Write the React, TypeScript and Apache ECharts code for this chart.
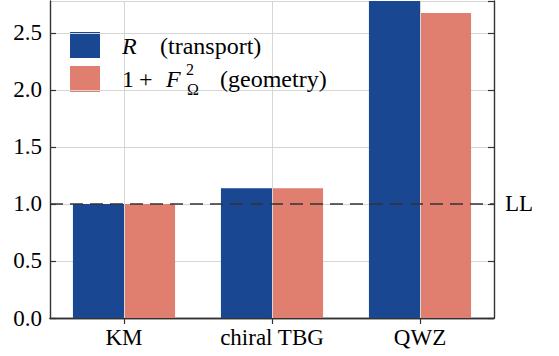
import React, { useEffect, useRef } from "react";
import * as echarts from "echarts";

const categories = ["KM", "chiral TBG", "QWZ"];
const transportValues = [1.0, 1.138, 2.9];
const geometryValues = [1.0, 1.138, 2.675];
const yTicks = [0, 0.5, 1.0, 1.5, 2.0, 2.5];
const llValue = 1.0;

const SERIF = "Liberation Serif";
const BLUE = "#1a4792";
const SALMON = "#e07e70";
const AXIS = "#333333";

const abs = (left: number, top: number, size: number, italic = false): React.CSSProperties => ({
  position: "absolute",
  left,
  top: top - size / 2,
  fontSize: size,
  lineHeight: `${size}px`,
  fontStyle: italic ? "italic" : "normal",
  fontFamily: SERIF,
  color: "#000",
  whiteSpace: "nowrap",
});

export default function App() {
  const ref = useRef<HTMLDivElement>(null);
  useEffect(() => {
    if (!ref.current) return;
    const chart = echarts.init(ref.current, null, { renderer: "svg" });
    const axisLine = { show: true, lineStyle: { color: AXIS, width: 1.4 } };
    const inTick = { show: true, inside: true, length: 6, lineStyle: { color: AXIS, width: 1.2 } };
    chart.setOption({
      animation: false,
      backgroundColor: "#ffffff",
      grid: { left: 50, right: 65, top: 1, bottom: 38, containLabel: false },
      xAxis: [
        {
          type: "category",
          data: categories,
          position: "bottom",
          axisLine,
          axisTick: { ...inTick, alignWithLabel: true },
          axisLabel: { fontFamily: SERIF, fontSize: 23, color: "#000", margin: 8 },
          splitLine: { show: false },
        },
        {
          type: "category",
          data: categories,
          position: "top",
          axisLine,
          axisTick: { ...inTick, alignWithLabel: true },
          axisLabel: { show: false },
          splitLine: { show: false },
        },
      ],
      yAxis: [
        {
          type: "value",
          min: 0,
          max: 2.78,
          interval: 0.5,
          position: "left",
          axisLine,
          axisTick: inTick,
          axisLabel: {
            fontFamily: SERIF,
            fontSize: 23,
            color: "#000",
            margin: 8,
            showMaxLabel: false,
            formatter: (v: number) =>
              yTicks.some((t) => Math.abs(t - v) < 1e-6) ? v.toFixed(1) : "",
          },
          splitLine: { show: true, lineStyle: { color: "#d6d6d6", width: 1 } },
        },
        {
          type: "value",
          min: 0,
          max: 2.78,
          interval: 0.5,
          position: "right",
          axisLine,
          axisTick: inTick,
          axisLabel: { show: false },
          splitLine: { show: false },
        },
      ],
      series: [
        {
          name: "grid",
          type: "line",
          data: categories.map(() => null),
          z: 1,
          silent: true,
          markLine: {
            silent: true,
            symbol: "none",
            label: { show: false },
            lineStyle: { color: "#d6d6d6", width: 1, type: "solid" },
            data: categories.map((c) => ({ xAxis: c })),
          },
        },
        {
          name: "R (transport)",
          type: "bar",
          data: transportValues,
          barGap: "0%",
          barCategoryGap: "31%",
          itemStyle: { color: BLUE },
          z: 2,
        },
        {
          name: "1 + F_Ω^2 (geometry)",
          type: "bar",
          data: geometryValues,
          barGap: "0%",
          barCategoryGap: "31%",
          itemStyle: { color: SALMON },
          z: 3,
          markLine: {
            silent: true,
            symbol: "none",
            lineStyle: { color: "#333", width: 1.5, type: [13, 7] },
            label: {
              show: true,
              position: "end",
              formatter: "LL",
              fontFamily: SERIF,
              fontSize: 23,
              color: "#000",
              distance: 11,
            },
            data: [{ yAxis: llValue }],
          },
        },
      ],
      graphic: [
        { type: "rect", left: 70, top: 32, shape: { width: 30, height: 26 }, style: { fill: BLUE } },
        { type: "rect", left: 70, top: 66, shape: { width: 30, height: 26 }, style: { fill: SALMON } },
      ],
    });
    return () => chart.dispose();
  }, []);
  return (
    <div style={{ position: "fixed", left: 0, top: 0, width: 559, height: 356, fontFamily: SERIF }}>
      <div ref={ref} style={{ position: "absolute", left: 0, top: 0, width: 559, height: 356 }} />
      <span style={abs(122, 46, 24, true)}>R</span>
      <span style={abs(160, 46, 24)}>(transport)</span>
      <span style={abs(122, 79, 24)}>1</span>
      <span style={abs(139, 79, 24)}>+</span>
      <span style={abs(166, 79, 24, true)}>F</span>
      <span style={abs(186, 70, 16)}>2</span>
      <span style={abs(187, 90, 16)}>Ω</span>
      <span style={abs(220, 79, 24)}>(geometry)</span>
    </div>
  );
}
